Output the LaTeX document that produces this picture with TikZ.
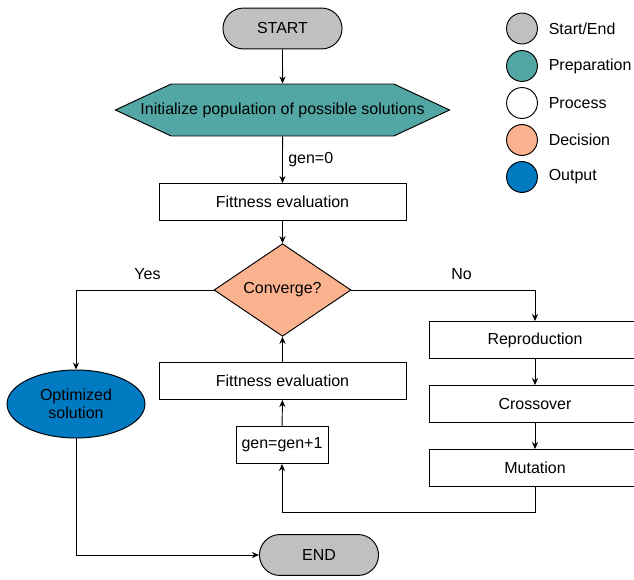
\documentclass[tikz,border=0pt]{standalone}
\usepackage{fontspec}
\setmainfont{Liberation Sans}
\usetikzlibrary{shapes.geometric}
\usetikzlibrary{shapes.symbols}
\usetikzlibrary{arrows.meta}

\definecolor{termgray}{RGB}{192,192,192}
\definecolor{prepteal}{RGB}{82,166,164}
\definecolor{decpeach}{RGB}{251,178,143}
\definecolor{outblue}{RGB}{0,122,193}

\begin{document}
\begin{tikzpicture}[x=0.022cm,y=-0.022cm,
    font=\fontsize{10}{11.5}\selectfont, line width=0.6pt,
    >={Stealth[length=4.4pt,width=3.8pt]},
    terminal/.style={draw, fill=termgray, rounded corners=0.45cm,
      minimum width=2.62cm, minimum height=0.9cm, inner sep=0pt},
    process/.style={draw, fill=white, minimum height=0.814cm, inner sep=0pt},
    key/.style={circle, draw, minimum size=0.68cm, inner sep=0pt}]
  \clip (0,0) rectangle (634,579);
  % main flow
  \node [terminal] (start) at (282.5,28.5) {START};
  \node [signal, signal to=west and east, signal pointer angle=50, draw,
    fill=prepteal, minimum height=1.144cm, inner sep=0pt] (init) at (282.5,110)
    {\makebox[4.9cm]{Initialize population of possible solutions}};
  \node [process, minimum width=5.434cm] (fit) at (282.5,202) {Fittness evaluation};
  \node [diamond, draw, fill=decpeach, minimum width=3.014cm,
    minimum height=1.98cm, inner sep=0pt] (conv) at (282.5,290) {Converge?};
  \node [ellipse, draw, fill=outblue, minimum width=3.036cm,
    minimum height=1.496cm, inner sep=0pt, align=center] (opt) at (76,404) {Optimized\\solution};
  \node [process, minimum width=5.434cm] (fitb) at (282.5,381) {Fittness evaluation};
  \node [process, minimum width=2.024cm] (incr) at (282,445) {gen=gen+1};
  \node [process, minimum width=4.664cm] (repr) at (535,340) {Reproduction};
  \node [process, minimum width=4.664cm] (cross) at (535,404) {Crossover};
  \node [process, minimum width=4.664cm] (mut) at (535,468) {Mutation};
  \node [terminal] (end) at (319,555) {END};
  \coordinate (back) at (535,512);

  \draw [->] (start) -- (init);
  \draw [->] (init) -- node [right] {gen=0} (fit);
  \draw [->] (fit) -- (conv);
  \draw [->] (conv.west) -| node [pos=0.24, above, yshift=3pt] {Yes} (opt.north);
  \draw [->] (conv.east) -| node [pos=0.3, above, yshift=3pt] {No} (repr.north);
  \draw [->] (repr) -- (cross);
  \draw [->] (cross) -- (mut);
  \draw [->] (mut) -- (back) -| (incr);
  \draw [->] (incr) -- (fitb);
  \draw [->] (fitb) -- (conv);
  \draw [->] (opt.south) |- (end.west);

  % legend
  \foreach \n/\y/\c/\t in {1/28.5/termgray/{Start/End}, 2/66/prepteal/Preparation,
      3/103/white/Process, 4/140/decpeach/Decision, 5/177/outblue/Output} {
    \node [key, fill=\c] (key\n) at (522,\y) {};
    \node [anchor=west] (keytext\n) at (543,\y) {\t};
  }
\end{tikzpicture}
\end{document}
